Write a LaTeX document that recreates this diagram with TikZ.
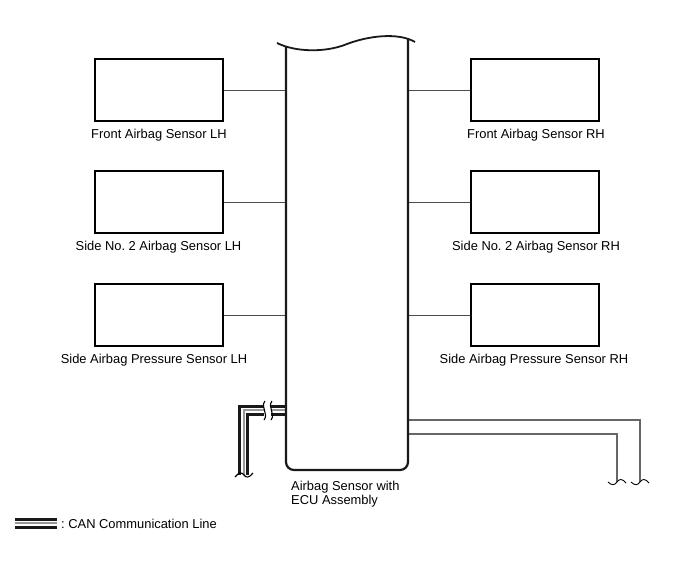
\documentclass[tikz,border=0pt]{standalone}
\usepackage{fontspec}
\setmainfont{Liberation Sans}
\frenchspacing
\begin{document}
\begin{tikzpicture}[x=1pt,y=-1pt,
  sensor/.style={draw=black,line width=1.8pt,minimum width=128pt,minimum height=62pt,inner sep=0pt},
  lbl/.style={font=\fontsize{12.9}{14}\selectfont,inner sep=0pt,anchor=base,text=black},
  wire/.style={draw=black!70,line width=0.9pt},
  sig/.style={draw=black!60,line width=1.1pt},
  ecu/.style={draw=black!90,line width=2.2pt},
  canA/.style={draw=black!90,line width=11pt,line join=miter},
  canB/.style={draw=white,line width=5pt,line join=miter},
  canC/.style={draw=black!40,line width=2pt,line join=miter},
  brk/.style={draw=black,line width=1.1pt},
]
\useasboundingbox (0,0) rectangle (688,560);

% sensors
\node[sensor] (lb1) at (159,90) {};
\node[sensor] (lb2) at (159,202) {};
\node[sensor] (lb3) at (159,315) {};
\node[sensor] (rb1) at (535,90) {};
\node[sensor] (rb2) at (535,202) {};
\node[sensor] (rb3) at (535,315) {};

\node[lbl] (lt1) at (159,138) {Front Airbag Sensor LH};
\node[lbl] (lt2) at (158.5,250) {Side No. 2 Airbag Sensor LH};
\node[lbl] (lt3) at (154,363) {Side Airbag Pressure Sensor LH};
\node[lbl] (rt1) at (536,138) {Front Airbag Sensor RH};
\node[lbl] (rt2) at (536,250) {Side No. 2 Airbag Sensor RH};
\node[lbl] (rt3) at (534,363) {Side Airbag Pressure Sensor RH};

% ECU edges
\coordinate (ecuL) at (286,200);
\coordinate (ecuR) at (408,200);

% connectors
\draw[wire] (lb1.east) -- (lb1.east -| ecuL);
\draw[wire] (lb2.east) -- (lb2.east -| ecuL);
\draw[wire] (lb3.east) -- (lb3.east -| ecuL);
\draw[wire] (rb1.west) -- (rb1.west -| ecuR);
\draw[wire] (rb2.west) -- (rb2.west -| ecuR);
\draw[wire] (rb3.west) -- (rb3.west -| ecuR);

% CAN line
\coordinate (canE) at (286,410);
\coordinate (canK) at (243.5,410);
\coordinate (canS) at (243.5,475);
\draw[canA] (canE) -- (canK) -- (canS);
\draw[canB] (canE) -- (canK) -- (canS);
\draw[canC] (canE) -- (canK) -- (canS);
\fill[white] (264,402) rectangle (271,420);
\draw[brk] (265,401) .. controls (260,407) and (269,414) .. (264,420);
\draw[brk] (272,401) .. controls (267,407) and (276,414) .. (271,420);
\draw[brk] (235,477) .. controls (239,472) and (242,472) .. (244,475) .. controls (246,478) and (249,478) .. (253,473);

% right signal lines
\coordinate (s1a) at (408,420);
\coordinate (s1b) at (640,420);
\coordinate (s1c) at (640,482);
\coordinate (s2a) at (408,434);
\coordinate (s2b) at (617,434);
\coordinate (s2c) at (617,482);
\draw[sig] (s1a) -- (s1b) -- (s1c);
\draw[sig] (s2a) -- (s2b) -- (s2c);
\draw[brk,line width=0.9pt] ([xshift=-9pt]s1c) .. controls ([xshift=-5pt,yshift=-4pt]s1c) and ([xshift=-2pt,yshift=-3pt]s1c) .. (s1c) .. controls ([xshift=2pt,yshift=3pt]s1c) and ([xshift=5pt,yshift=4pt]s1c) .. ([xshift=9pt,yshift=-1pt]s1c);
\draw[brk,line width=0.9pt] ([xshift=-9pt]s2c) .. controls ([xshift=-5pt,yshift=-4pt]s2c) and ([xshift=-2pt,yshift=-3pt]s2c) .. (s2c) .. controls ([xshift=2pt,yshift=3pt]s2c) and ([xshift=5pt,yshift=4pt]s2c) .. ([xshift=9pt,yshift=-1pt]s2c);

% ECU box
\draw[ecu,rounded corners=8pt] (286,47) -- (286,470) -- (408,470) -- (408,39);
\draw[ecu,line width=1.8pt] (277,43) .. controls (295,52) and (325,53) .. (347,44) .. controls (368,36) and (398,32) .. (415,42);
\node[lbl,anchor=base west] (ecuT1) at (291,490.5) {Airbag Sensor with};
\node[lbl,anchor=base west] (ecuT2) at (291,504.5) {ECU Assembly};

% legend
\coordinate (lg1) at (15,523);
\coordinate (lg2) at (57,523);
\draw[canA] (lg1) -- (lg2);
\draw[canB] (lg1) -- (lg2);
\draw[canC] (lg1) -- (lg2);
\node[lbl,anchor=base west] (lgT) at (61,528) {: CAN Communication Line};
\end{tikzpicture}
\end{document}
